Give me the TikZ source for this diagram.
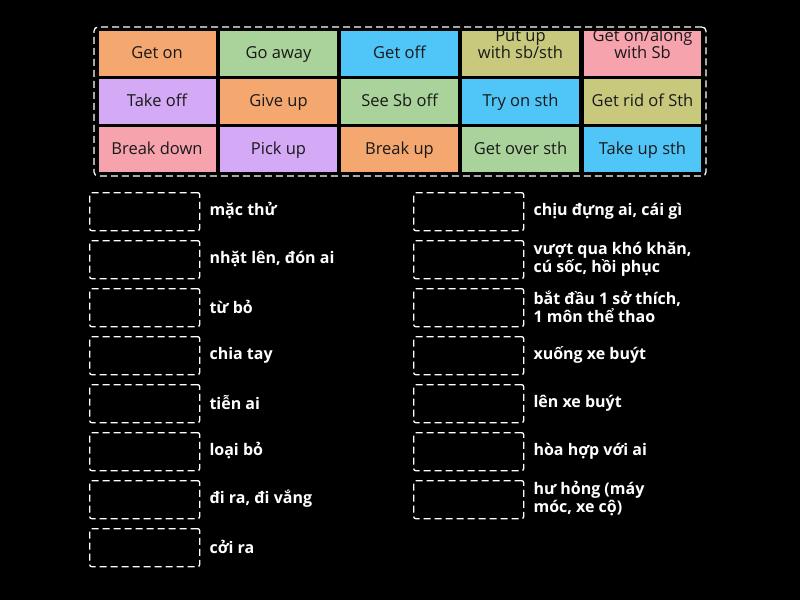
\documentclass[tikz,border=0pt]{standalone}
\usepackage{fontspec}
\setmainfont{Open Sans}
\definecolor{torange}{HTML}{F4A76E}
\definecolor{tgreen}{HTML}{A9D39A}
\definecolor{tblue}{HTML}{4FC6F7}
\definecolor{tkhaki}{HTML}{C9C97E}
\definecolor{tpink}{HTML}{F7A3AE}
\definecolor{tpurple}{HTML}{D4A9F5}
\tikzset{
  tile/.style={minimum width=117pt, minimum height=45pt, inner sep=1pt, align=center, text height=12pt, text depth=3pt, font=\fontsize{16.5}{17}\selectfont, text=black!90},
  slot/.style={draw=white, dash pattern=on 7pt off 4pt, line width=1.3pt, rounded corners=2pt, minimum width=110pt, minimum height=38pt, anchor=north west},
  hint/.style={text=white, anchor=west, align=left, font=\bfseries\fontsize{16}{18}\selectfont}
}
\begin{document}
\begin{tikzpicture}[x=1pt, y=-1pt]
  \useasboundingbox[fill=black] (0,0) rectangle (800,600);
  % answer bank
  \node[draw=white, dash pattern=on 7pt off 4pt, line width=1.3pt, rounded corners=4pt, minimum width=612pt, minimum height=149pt] (bank) at (400,101.5) {};
  \node[tile, fill=torange] (t11) at (157,53.5) {Get on};
  \node[tile, fill=tgreen] (t12) at (278.5,53.5) {Go away};
  \node[tile, fill=tblue] (t13) at (399.5,53.5) {Get off};
  \node[tile, fill=tkhaki] (t14) at (520.5,53.5) {Put up\\with sb/sth};
  \node[tile, fill=tpink] (t15) at (642.5,53.5) {Get on/along\\with Sb};
  \node[tile, fill=tpurple] (t21) at (157,101.5) {Take off};
  \node[tile, fill=torange] (t22) at (278.5,101.5) {Give up};
  \node[tile, fill=tgreen] (t23) at (399.5,101.5) {See Sb off};
  \node[tile, fill=tblue] (t24) at (520.5,101.5) {Try on sth};
  \node[tile, fill=tkhaki] (t25) at (642.5,101.5) {Get rid of Sth};
  \node[tile, fill=tpink] (t31) at (157,149.5) {Break down};
  \node[tile, fill=tpurple] (t32) at (278.5,149.5) {Pick up};
  \node[tile, fill=torange] (t33) at (399.5,149.5) {Break up};
  \node[tile, fill=tgreen] (t34) at (520.5,149.5) {Get over sth};
  \node[tile, fill=tblue] (t35) at (642.5,149.5) {Take up sth};
  % left column
  \foreach \t [count=\i] in {mặc thử, {nhặt lên, đón ai}, từ bỏ, chia tay, tiễn ai, loại bỏ, {đi ra, đi vắng}, cởi ra} {
    \node[slot] (ls\i) at (89,{192+48*(\i-1)}) {};
    \node[hint] (lh\i) at (206,{211+48*(\i-1)}) {\t};
  }
  % right column
  \foreach \t [count=\i] in {{chịu đựng ai, cái gì}, {vượt qua khó khăn,\\cú sốc, hồi phục}, {bắt đầu 1 sở thích,\\1 môn thể thao}, xuống xe buýt, lên xe buýt, hòa hợp với ai, {hư hỏng (máy\\móc, xe cộ)}} {
    \node[slot] (rs\i) at (413,{192+48*(\i-1)}) {};
    \node[hint] (rh\i) at (530,{211+48*(\i-1)}) {\t};
  }
\end{tikzpicture}
\end{document}
